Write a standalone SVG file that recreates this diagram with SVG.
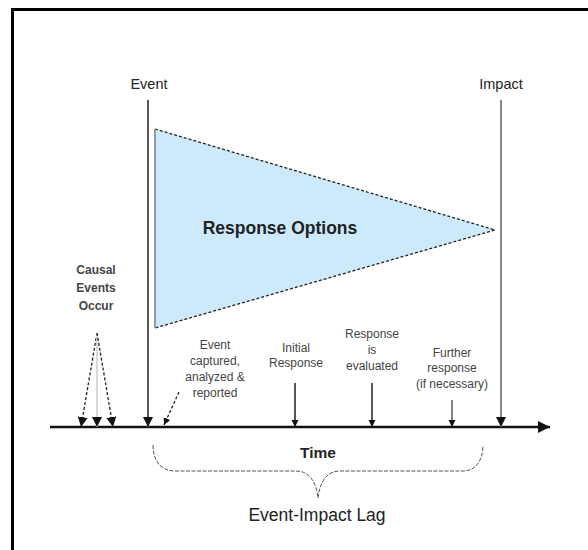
<svg xmlns="http://www.w3.org/2000/svg" width="588" height="550" viewBox="0 0 588 550">
<defs>
<style>
text{font-family:"Liberation Sans",Arial,sans-serif;fill:#222;text-anchor:middle}
.b{font-weight:bold}
.lbl{font-size:14.5px}
.sm{font-size:12px;fill:#444}
.ln{fill:none;stroke:#222;stroke-width:1.5}
.dash{fill:none;stroke:#222;stroke-width:1.3;stroke-dasharray:3,2}
</style>
<marker id="ah" viewBox="0 0 10 10" refX="10" refY="5" markerWidth="10" markerHeight="11" markerUnits="userSpaceOnUse" orient="auto">
<path d="M0,0 L10,5 L0,10 Z" fill="#111"/>
</marker>
<marker id="ahs" viewBox="0 0 10 10" refX="10" refY="5" markerWidth="7" markerHeight="8" markerUnits="userSpaceOnUse" orient="auto">
<path d="M0,0 L10,5 L0,10 Z" fill="#111"/>
</marker>
<marker id="axh" viewBox="0 0 10 10" refX="10" refY="5" markerWidth="13" markerHeight="12" markerUnits="userSpaceOnUse" orient="auto">
<path d="M0,0 L10,5 L0,10 Z" fill="#111"/>
</marker>
</defs>
<rect x="0" y="0" width="588" height="550" fill="#fff"/>
<rect id="frame" x="12.5" y="9.5" width="620" height="620" fill="none" stroke="#000" stroke-width="3"/>

<g id="response-options">
<path d="M155,129 L495,230 L155,328" fill="#cdeafd" stroke="none"/>
<path d="M155,129 L495,230 L155,328" class="dash"/>
<line x1="155" y1="129" x2="155" y2="328" stroke="#999" stroke-width="2"/>
<text class="b" x="280" y="234" font-size="17.5">Response Options</text>
</g>

<g id="event">
<text class="lbl" x="149" y="89">Event</text>
</g>
<g id="impact">
<text class="lbl" x="501" y="89">Impact</text>
</g>
<g id="causal">
<text class="b sm" x="96" y="274" font-size="13">Causal</text>
<text class="b sm" x="96" y="292" font-size="13">Events</text>
<text class="b sm" x="96" y="310" font-size="13">Occur</text>
</g>
<g id="captured">
<text class="sm" x="215" y="349">Event</text>
<text class="sm" x="215" y="365">captured,</text>
<text class="sm" x="215" y="381">analyzed &amp;</text>
<text class="sm" x="215" y="397">reported</text>
</g>
<g id="initial">
<text class="sm" x="296" y="352">Initial</text>
<text class="sm" x="296" y="367">Response</text>
</g>
<g id="evaluated">
<text class="sm" x="372" y="338">Response</text>
<text class="sm" x="372" y="354">is</text>
<text class="sm" x="372" y="370">evaluated</text>
</g>
<g id="further">
<text class="sm" x="452" y="357">Further</text>
<text class="sm" x="452" y="372">response</text>
<text class="sm" x="452" y="388">(if necessary)</text>
</g>
<g id="time">
<text class="b" x="318" y="458" font-size="15.5">Time</text>
</g>
<g id="lag">
<text x="317" y="521" font-size="17.5">Event-Impact Lag</text>
</g>

<g id="connectors">
<line x1="50" y1="427" x2="550" y2="427" stroke="#111" stroke-width="2.5" marker-end="url(#axh)"/>
<line x1="148" y1="100" x2="148" y2="427" stroke="#555" stroke-width="2" marker-end="url(#ah)"/>
<line x1="501" y1="100" x2="501" y2="427" stroke="#888" stroke-width="2" marker-end="url(#ah)"/>
<line x1="97" y1="333" x2="81" y2="427" class="dash" marker-end="url(#ah)"/>
<line x1="97" y1="333" x2="97" y2="427" stroke="#ccc" stroke-width="1.5" marker-end="url(#ah)"/>
<line x1="97" y1="333" x2="113" y2="427" class="dash" marker-end="url(#ah)"/>
<line x1="179" y1="392" x2="164" y2="425" class="dash" marker-end="url(#ahs)"/>
<line x1="295" y1="383" x2="295" y2="427" class="ln" marker-end="url(#ahs)"/>
<line x1="372" y1="383" x2="372" y2="427" class="ln" marker-end="url(#ahs)"/>
<line x1="452" y1="400" x2="452" y2="427" stroke="#333" stroke-width="1.2" marker-end="url(#ahs)"/>
<path d="M153,445 C153,460 160,471 175,471 L296,471 C308,471 316,480 318,498 C320,480 328,471 340,471 L463,471 C476,471 483,460 483,445" fill="none" stroke="#555" stroke-width="1" stroke-dasharray="4,1.5"/>
</g>
</svg>
